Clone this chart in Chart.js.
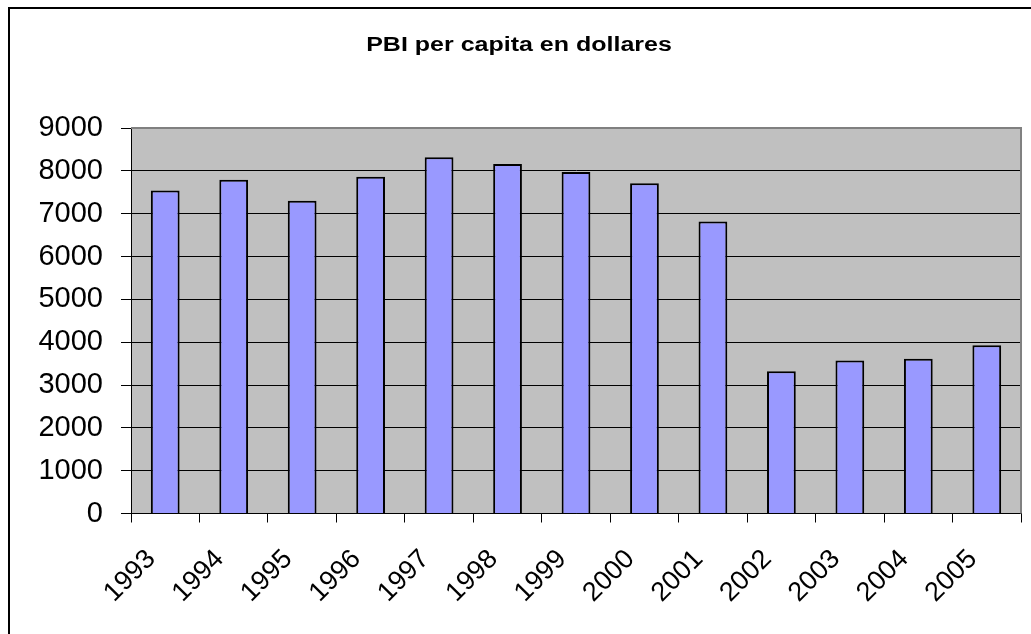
<!DOCTYPE html>
<html lang="es">
<head>
    <meta charset="UTF-8">
    <title>PBI per capita en dollares</title>
    <script src="https://cdn.jsdelivr.net/npm/chart.js"></script>
    <style>
        body {
            margin: 0;
            background: #ffffff;
        }
        #chart {
            display: block;
        }
    </style>
</head>
<body>
    <canvas id="chart" width="1031" height="634"></canvas>

    <script>
        // data
        const titleText = "PBI per capita en dollares";
        const years = ["1993", "1994", "1995", "1996", "1997", "1998", "1999",
                       "2000", "2001", "2002", "2003", "2004", "2005"];
        const pbi = [7540, 7790, 7300, 7860, 8320, 8160, 7970,
                     7710, 6820, 3320, 3570, 3610, 3930];
        const yTicks = [0, 1000, 2000, 3000, 4000, 5000, 6000, 7000, 8000, 9000];

        const FONT = "'Liberation Sans', Arial, sans-serif";

        // grey plot area, outer frame and the (wide) title
        const frame = {
            id: "frame",
            beforeDraw(chart) {
                const c = chart.ctx;
                const a = chart.chartArea;
                c.save();
                c.fillStyle = "#ffffff";
                c.fillRect(0, 0, chart.width, chart.height);
                c.strokeStyle = "#000000";
                c.lineWidth = 2;
                c.beginPath();
                c.moveTo(9, chart.height + 5);
                c.lineTo(9, 8);
                c.lineTo(chart.width + 5, 8);
                c.stroke();
                c.fillStyle = "#c0c0c0";
                c.fillRect(a.left, a.top, a.right - a.left, a.bottom - a.top);

                // title is a bit stretched sideways in the original
                c.translate(519, 51);
                c.scale(1.25, 1);
                c.fillStyle = "#000000";
                c.font = "bold 20px " + FONT;
                c.textAlign = "center";
                c.textBaseline = "alphabetic";
                c.fillText(titleText, 0, 0);
                c.restore();
            },
            beforeDatasetsDraw(chart) {
                const c = chart.ctx;
                const a = chart.chartArea;
                c.save();
                c.strokeStyle = "#808080";
                c.lineWidth = 2;
                c.beginPath();
                c.moveTo(a.left, a.top);
                c.lineTo(a.right, a.top);
                c.lineTo(a.right, a.bottom);
                c.stroke();
                c.restore();
            }
        };

        new Chart(document.getElementById("chart"), {
            type: "bar",
            data: {
                labels: years,
                datasets: [{
                    data: pbi,
                    backgroundColor: "#9999ff",
                    borderColor: "#000000",
                    borderWidth: 2,
                    barPercentage: 0.42,
                    categoryPercentage: 1.0
                }]
            },
            options: {
                responsive: false,
                animation: false,
                layout: {
                    padding: { left: 7, right: 8, top: 128, bottom: 0 }
                },
                plugins: {
                    legend: { display: false },
                    tooltip: { enabled: false },
                    title: { display: false }
                },
                scales: {
                    x: {
                        grid: {
                            display: true,
                            offset: true,
                            drawOnChartArea: false,
                            tickLength: 9,
                            tickColor: "#000000"
                        },
                        border: { color: "#000000", width: 1 },
                        ticks: {
                            color: "#000000",
                            font: { family: FONT, size: 27 },
                            minRotation: 45,
                            maxRotation: 45,
                            padding: 21,
                            labelOffset: -14
                        },
                        afterFit(scale) {
                            scale.height = 120.5;
                        }
                    },
                    y: {
                        min: 0,
                        max: 9000,
                        afterBuildTicks(scale) {
                            scale.ticks = yTicks.map(v => ({ value: v }));
                        },
                        grid: {
                            color: "#000000",
                            lineWidth: 1,
                            tickLength: 10,
                            tickColor: "#000000"
                        },
                        border: { color: "#000000", width: 1 },
                        ticks: {
                            color: "#000000",
                            font: { family: FONT, size: 29 },
                            padding: 18,
                            callback: v => String(v)
                        },
                        afterFit(scale) {
                            scale.width = 124;
                        }
                    }
                }
            },
            plugins: [frame]
        });
    </script>
</body>
</html>
